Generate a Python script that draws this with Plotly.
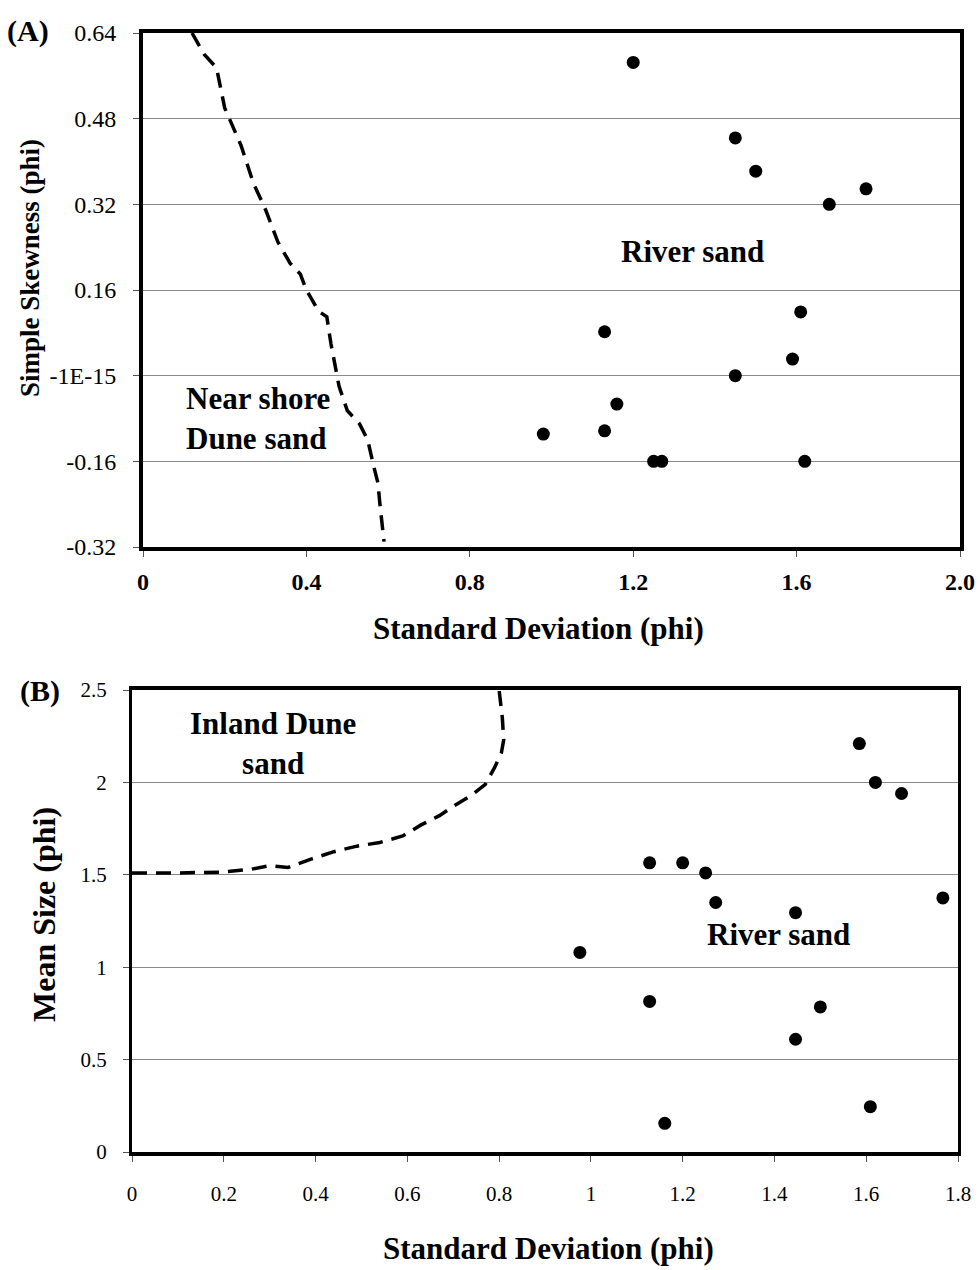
import plotly.graph_objects as go

# ---------------- Data: Panel A (Simple Skewness vs Standard Deviation) ----------------
a_sd = [1.20, 1.45, 1.50, 1.77, 1.68, 1.61, 1.13, 1.59, 1.45, 1.16, 0.98, 1.13, 1.25, 1.27, 1.62]
a_skew = [0.585, 0.444, 0.382, 0.349, 0.32, 0.119, 0.082, 0.031, 0.0, -0.053, -0.109, -0.103, -0.16, -0.16, -0.16]

# boundary line (Near shore dune sand / river sand)
a_line_x = [0.12, 0.15, 0.18, 0.20, 0.24, 0.27, 0.30, 0.33, 0.36, 0.385, 0.40, 0.43, 0.45, 0.46, 0.48, 0.50, 0.53, 0.55, 0.565, 0.575, 0.58, 0.59]
a_line_y = [0.64, 0.60, 0.575, 0.50, 0.43, 0.36, 0.31, 0.25, 0.21, 0.19, 0.16, 0.12, 0.11, 0.06, -0.02, -0.065, -0.09, -0.12, -0.17, -0.20, -0.24, -0.31]

a_yticks = [0.64, 0.48, 0.32, 0.16, 0.0, -0.16, -0.32]
a_yticktext = ["0.64", "0.48", "0.32", "0.16", "-1E-15", "-0.16", "-0.32"]
a_xticks = [0, 0.4, 0.8, 1.2, 1.6, 2.0]
a_xticktext = ["0", "0.4", "0.8", "1.2", "1.6", "2.0"]

# ---------------- Data: Panel B (Mean Size vs Standard Deviation) ----------------
b_sd = [1.585, 1.62, 1.677, 1.128, 1.20, 1.25, 1.272, 1.446, 1.767, 0.976, 1.128, 1.50, 1.446, 1.609, 1.161]
b_mean = [2.21, 2.00, 1.94, 1.565, 1.565, 1.51, 1.35, 1.295, 1.375, 1.08, 0.815, 0.785, 0.61, 0.245, 0.155]

b_line_x = [0.0, 0.10, 0.20, 0.26, 0.30, 0.32, 0.34, 0.39, 0.44, 0.49, 0.54, 0.59, 0.63, 0.67, 0.70, 0.74, 0.77, 0.79, 0.805, 0.81, 0.807, 0.80]
b_line_y = [1.51, 1.51, 1.515, 1.53, 1.55, 1.545, 1.54, 1.585, 1.625, 1.655, 1.675, 1.71, 1.77, 1.82, 1.87, 1.93, 1.99, 2.08, 2.16, 2.23, 2.35, 2.50]

b_yticks = [0, 0.5, 1, 1.5, 2, 2.5]
b_xticks = [0, 0.2, 0.4, 0.6, 0.8, 1.0, 1.2, 1.4, 1.6, 1.8]
b_xticktext = ["0", "0.2", "0.4", "0.6", "0.8", "1", "1.2", "1.4", "1.6", "1.8"]

# page body margin is removed (see post_script), so page pixels == figure pixels
W, H = 980, 1270
SERIF = "Liberation Serif, Times New Roman, serif"

def px_x(p):
    return p / W

def px_y(p):
    return 1 - p / H

fig = go.Figure()

# Panel A traces
fig.add_trace(go.Scatter(x=a_line_x, y=a_line_y, mode="lines",
                         line=dict(color="black", width=3.5, dash="15px,9px"),
                         xaxis="x", yaxis="y", showlegend=False, hoverinfo="skip"))
fig.add_trace(go.Scatter(x=a_sd, y=a_skew, mode="markers",
                         marker=dict(color="black", size=13),
                         xaxis="x", yaxis="y", showlegend=False))

# Panel B traces
fig.add_trace(go.Scatter(x=b_line_x, y=b_line_y, mode="lines",
                         line=dict(color="black", width=3.5, dash="15px,9px"),
                         xaxis="x2", yaxis="y2", showlegend=False, hoverinfo="skip"))
fig.add_trace(go.Scatter(x=b_sd, y=b_mean, mode="markers",
                         marker=dict(color="black", size=13),
                         xaxis="x2", yaxis="y2", showlegend=False))

axis_common = dict(showline=True, linecolor="black", mirror=True, zeroline=False,
                   ticks="outside", tickcolor="#555", ticklen=6, tickwidth=1,
                   automargin=False)

fig.update_layout(
    width=W, height=H,
    margin=dict(l=0, r=0, t=0, b=0),
    paper_bgcolor="white", plot_bgcolor="white",
    font=dict(family=SERIF, color="black"),
    xaxis=dict(domain=[px_x(143), px_x(960)], range=[0, 2.0], anchor="y",
               tickvals=a_xticks, ticktext=a_xticktext, showgrid=False,
               tickfont=dict(family=SERIF, size=24, weight="bold"),
               linewidth=4, ticklabelstandoff=4, **axis_common),
    yaxis=dict(domain=[px_y(547), px_y(33)], range=[-0.32, 0.64], anchor="x",
               tickvals=a_yticks, ticktext=a_yticktext, showgrid=True,
               gridcolor="#8a8a8a", gridwidth=1,
               tickfont=dict(family=SERIF, size=24),
               linewidth=4, ticklabelstandoff=12, **axis_common),
    xaxis2=dict(domain=[px_x(132), px_x(958)], range=[0, 1.8], anchor="y2",
                tickvals=b_xticks, ticktext=b_xticktext, showgrid=False,
                tickfont=dict(family=SERIF, size=21),
                linewidth=4, ticklabelstandoff=14, **axis_common),
    yaxis2=dict(domain=[px_y(1152), px_y(690)], range=[0, 2.5], anchor="x2",
                tickvals=b_yticks, showgrid=True, gridcolor="#8a8a8a", gridwidth=1,
                tickfont=dict(family=SERIF, size=21),
                linewidth=3, ticklabelstandoff=12, **axis_common),
)

ann = []
bold = lambda s: "<b>" + s + "</b>"
# axis titles
ann.append(dict(text=bold("Standard Deviation (phi)"), x=px_x(538), y=px_y(628), xref="paper", yref="paper",
                showarrow=False, font=dict(size=31, family=SERIF), xanchor="center", yanchor="middle"))
ann.append(dict(text=bold("Simple Skewness (phi)"), x=px_x(30), y=px_y(268), xref="paper", yref="paper",
                showarrow=False, font=dict(size=27, family=SERIF), textangle=-90, xanchor="center", yanchor="middle"))
ann.append(dict(text=bold("Standard Deviation (phi)"), x=px_x(548), y=px_y(1248), xref="paper", yref="paper",
                showarrow=False, font=dict(size=31, family=SERIF), xanchor="center", yanchor="middle"))
ann.append(dict(text=bold("Mean Size (phi)"), x=px_x(44), y=px_y(915), xref="paper", yref="paper",
                showarrow=False, font=dict(size=32, family=SERIF), textangle=-90, xanchor="center", yanchor="middle"))
# panel labels
ann.append(dict(text=bold("(A)"), x=px_x(5), y=px_y(31), xref="paper", yref="paper",
                showarrow=False, font=dict(size=30, family=SERIF), xanchor="left", yanchor="middle"))
ann.append(dict(text=bold("(B)"), x=px_x(18), y=px_y(691), xref="paper", yref="paper",
                showarrow=False, font=dict(size=30, family=SERIF), xanchor="left", yanchor="middle"))
# region labels
ann.append(dict(text=bold("River sand"), x=px_x(692), y=px_y(251), xref="paper", yref="paper",
                showarrow=False, font=dict(size=31, family=SERIF), xanchor="center", yanchor="middle"))
ann.append(dict(text=bold("Near shore<br>Dune sand"), x=px_x(184), y=px_y(418), xref="paper", yref="paper",
                showarrow=False, font=dict(size=31, family=SERIF), xanchor="left", yanchor="middle", align="left"))
ann.append(dict(text=bold("Inland Dune<br>sand"), x=px_x(273), y=px_y(743), xref="paper", yref="paper",
                showarrow=False, font=dict(size=31, family=SERIF), xanchor="center", yanchor="middle", align="center"))
ann.append(dict(text=bold("River sand"), x=px_x(778), y=px_y(934), xref="paper", yref="paper",
                showarrow=False, font=dict(size=31, family=SERIF), xanchor="center", yanchor="middle"))
fig.update_layout(annotations=ann)

fig.write_html("out.html",
               config={"displayModeBar": False},
               post_script="document.body.style.margin='0';document.body.style.overflow='hidden';")
